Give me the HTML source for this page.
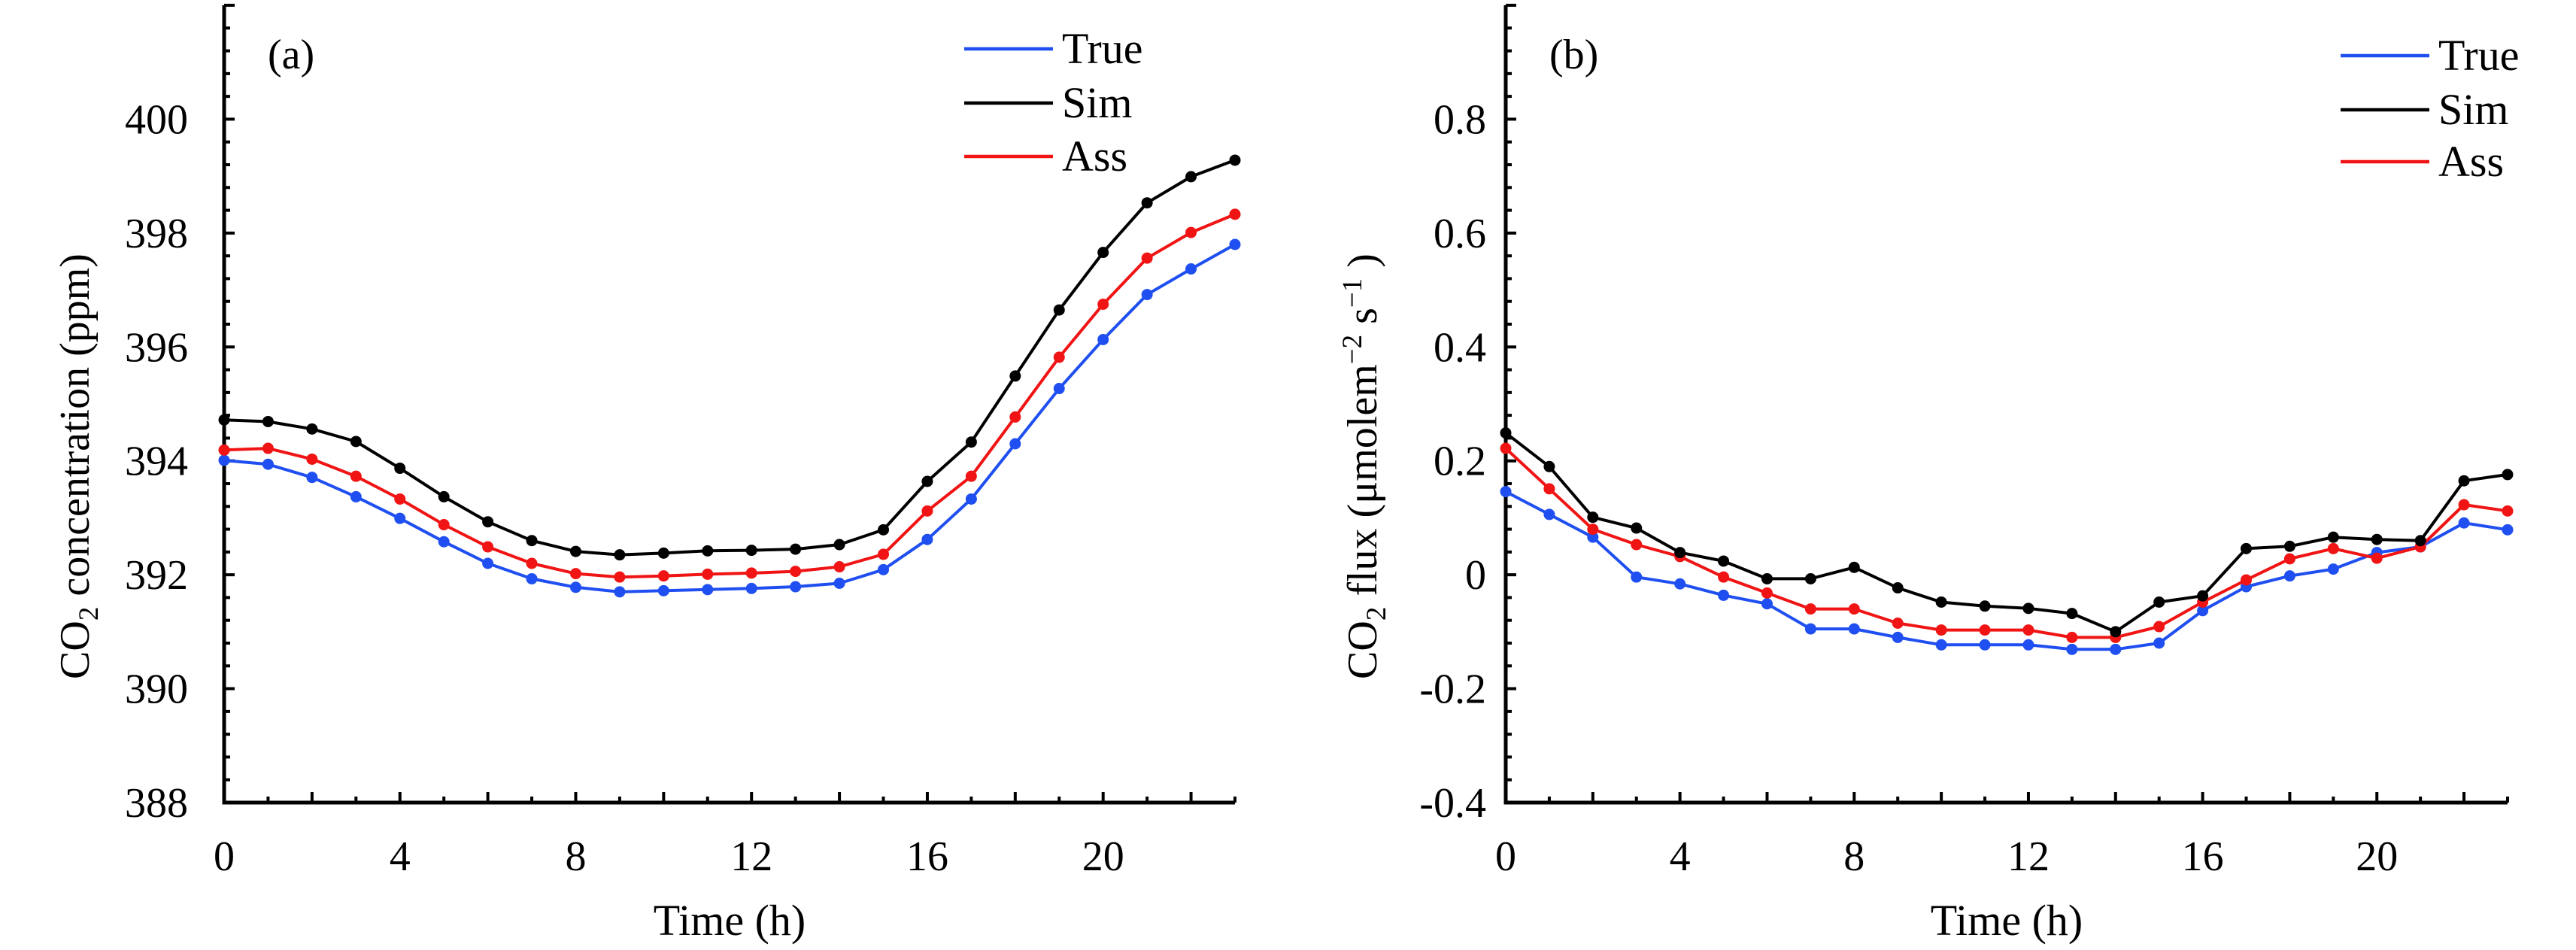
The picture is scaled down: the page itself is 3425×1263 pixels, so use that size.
<!DOCTYPE html>
<html><head><meta charset="utf-8"><style>
html,body{margin:0;padding:0;background:#fff}
svg text{font-family:"Liberation Serif",serif;fill:#000}
</style></head><body>
<svg id="chart" width="3425" height="1258" viewBox="0 0 3425 1258" xmlns="http://www.w3.org/2000/svg"></svg>
<script>
const hours = [0,1,2,3,4,5,6,7,8,9,10,11,12,13,14,15,16,17,18,19,20,21,22,23];
const concTrue = [394.01,393.94,393.71,393.37,392.99,392.58,392.2,391.93,391.78,391.7,391.72,391.74,391.76,391.79,391.85,392.09,392.62,393.33,394.3,395.27,396.13,396.92,397.37,397.8];
const concSim = [394.72,394.69,394.56,394.34,393.87,393.37,392.93,392.6,392.41,392.35,392.38,392.42,392.43,392.45,392.53,392.79,393.64,394.33,395.49,396.65,397.66,398.53,398.99,399.28];
const concAss = [394.19,394.22,394.03,393.73,393.33,392.88,392.49,392.2,392.02,391.96,391.98,392.01,392.03,392.06,392.14,392.36,393.12,393.73,394.77,395.82,396.75,397.56,398.01,398.33];
const fluxTrue = [0.146,0.106,0.066,-0.004,-0.016,-0.036,-0.051,-0.095,-0.095,-0.11,-0.123,-0.123,-0.123,-0.131,-0.131,-0.12,-0.063,-0.021,-0.002,0.01,0.039,0.049,0.091,0.079];
const fluxSim = [0.249,0.19,0.101,0.082,0.039,0.024,-0.007,-0.007,0.013,-0.023,-0.048,-0.055,-0.059,-0.068,-0.1,-0.048,-0.037,0.046,0.05,0.066,0.062,0.06,0.165,0.176];
const fluxAss = [0.222,0.151,0.08,0.053,0.032,-0.004,-0.032,-0.06,-0.06,-0.085,-0.097,-0.097,-0.097,-0.11,-0.11,-0.091,-0.048,-0.009,0.028,0.046,0.029,0.049,0.123,0.112];
const xTickLabels = ["0","4","8","12","16","20"];
const concTickLabels = ["388","390","392","394","396","398","400"];
const fluxTickLabels = ["-0.4","-0.2","0","0.2","0.4","0.6","0.8"];
const seriesNames = ["True","Sim","Ass"];

const NS="http://www.w3.org/2000/svg";
const svg=document.getElementById('chart');
function mk(tag,attrs,parent){const e=document.createElementNS(NS,tag);for(const k in attrs)e.setAttribute(k,attrs[k]);(parent||svg).appendChild(e);return e;}
const colors={True:"#1f4ff0",Sim:"#000000",Ass:"#f01414"};

function panel(cfg){
  const g=mk('g',{});
  
  
  const L=cfg.x0,R=cfg.x1,B=1067,T=7;
  const xs=h=>L+(h-0)/23*(R-L);
  const ys=v=>B-(v-cfg.ymin)/(cfg.ymax-cfg.ymin)*(B-T);
  const ax=mk('path',{d:`M${L} ${T} L${L} ${B} L${R} ${B}`,fill:'none',stroke:'#000','stroke-width':5},g);
  
  
  for(let h=0;h<=23;h++){
    const x=xs(h),len=h%2===0?14:8;
    mk('line',{x1:x,y1:B,x2:x,y2:B-len,stroke:'#000','stroke-width':4},g);
  }
  xTickLabels.forEach(s=>{
    const t=mk('text',{x:xs(+s),y:1157,'font-size':56,'text-anchor':'middle'},g);t.textContent=s;
    
    
  });
  const step=cfg.step, minor=step/5;
  const n=Math.round((cfg.ymax-cfg.ymin)/minor);
  for(let i=0;i<=n;i++){
    const v=cfg.ymin+i*minor,y=ys(v),len=i%5===0?14:8;
    mk('line',{x1:L,y1:y,x2:L+len,y2:y,stroke:'#000','stroke-width':4},g);
  }
  cfg.labels.forEach(s=>{
    const t=mk('text',{x:cfg.labelRight,y:ys(parseFloat(s))+19,'font-size':56,'text-anchor':'end'},g);t.textContent=s;
    
    
  });
  const xt=mk('text',{x:(L+R)/2,y:1243,'font-size':58,'text-anchor':'middle'},g);xt.textContent='Time (h)';
  
  
  const yt=mk('text',{x:0,y:0,'font-size':56,'text-anchor':'middle',transform:`translate(${cfg.titleX},620) rotate(-90)`},g);
  yt.innerHTML=cfg.title;
  
  
  const pl=mk('text',{x:cfg.x0+58,y:91,'font-size':56},g);pl.textContent=cfg.tag;
  
  
  const data={True:cfg.t,Sim:cfg.s,Ass:cfg.a};
  ["True","Ass","Sim"].forEach(name=>{
    const vals=data[name];
    const sg=mk('g',{},g);
    
    
    const d=hours.map((h,i)=>(i?'L':'M')+xs(h).toFixed(1)+' '+ys(vals[i]).toFixed(1)).join(' ');
    mk('path',{d,fill:'none',stroke:colors[name],'stroke-width':4,'stroke-linejoin':'round'},sg);
    hours.forEach((h,i)=>{
      const c=mk('circle',{cx:xs(h),cy:ys(vals[i]),r:7.5,fill:colors[name]},sg);
      
      
    });
  });
  seriesNames.forEach((name,i)=>{
    const y=cfg.legY[i];
    const lg=mk('g',{},g);
    
    
    mk('line',{x1:cfg.legX,y1:y,x2:cfg.legX+118,y2:y,stroke:colors[name],'stroke-width':4.5},lg);
    const t=mk('text',{x:cfg.legX+130,y:y+19,'font-size':58},lg);t.textContent=name;
  });
}
panel({id:'panel-a',x0:298,x1:1642,ymin:388,ymax:402,step:2,labels:concTickLabels,labelRight:250,titleX:118,
  title:'CO<tspan font-size="37" dy="12">2</tspan><tspan dy="-12"> concentration (ppm)</tspan>',tag:'(a)',
  t:concTrue,s:concSim,a:concAss,legX:1282,legY:[65,137,208]});
panel({id:'panel-b',x0:2002,x1:3334,ymin:-0.4,ymax:1.0,step:0.2,labels:fluxTickLabels,labelRight:1976,titleX:1830,
  title:'CO<tspan font-size="37" dy="12">2</tspan><tspan dy="-12"> flux (μmolem</tspan><tspan font-size="37" dy="-20">−2</tspan><tspan dy="20"> s</tspan><tspan font-size="37" dy="-20">−1</tspan><tspan dy="20"> )</tspan>',tag:'(b)',
  t:fluxTrue,s:fluxSim,a:fluxAss,legX:3112,legY:[74,146,215]});
</script>
</body></html>
